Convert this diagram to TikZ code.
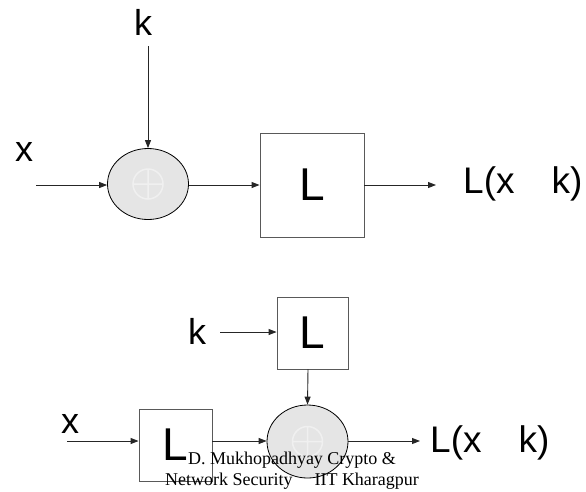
\documentclass[tikz,border=0pt]{standalone}
\usepackage{fontspec}
\setmainfont{Liberation Sans}
\newfontfamily\tnr{Liberation Serif}
\usetikzlibrary{shapes.geometric,arrows.meta}
\begin{document}
\begin{tikzpicture}[x=1pt,y=-1pt,
  conn/.style={draw=black!85,line width=0.9pt,-{Triangle[length=8pt,width=6pt]}},
  lbl/.style={inner sep=0pt,font=\fontsize{36}{36}\selectfont},
  outlbl/.style={inner sep=0pt,anchor=base west,font=\fontsize{37}{37}\selectfont},
  lbox/.style={draw=black!65,line width=0.9pt,fill=white,inner sep=0pt,font=\fontsize{46}{46}\selectfont},
  xorop/.style={ellipse,draw=black,line width=0.8pt,fill=black!10,inner sep=0pt},
  faint/.style={black!6,line width=1.5pt},
  wm/.style={inner sep=0pt,anchor=base,font=\tnr\fontsize{18}{18}\selectfont}]
\useasboundingbox[fill=white] (0,0) rectangle (586,491);
% ---------- top diagram ----------
\node[lbl] (k1) at (143,22) {k};
\coordinate (k1s) at (148,46);
\node[lbl] (x1) at (24,152) {x};
\coordinate (x1s) at (36,185);
\node[xorop,minimum width=81pt,minimum height=71pt] (e1) at (148,184) {};
\draw[faint] (e1.center) circle (15pt) (e1.center) ++(-15,0) -- ++(30,0) (e1.center) ++(0,-15) -- ++(0,30);
\node[lbox,minimum width=104pt,minimum height=104pt] (b1) at (312,185) {L};
\coordinate (o1) at (436,185);
\node[outlbl] (t1) at (463,193) {L(x\hspace{37pt}k)};
\draw[conn] (k1s) -- (e1.north);
\draw[conn] (x1s) -- (x1s -| e1.west);
\draw[conn] (e1.east |- b1.west) -- (b1.west);
\draw[conn] (b1.east) -- (o1);
% ---------- bottom diagram ----------
\node[lbl] (k2) at (197,331) {k};
\coordinate (k2s) at (220,332);
\node[lbox,minimum width=71pt,minimum height=72pt] (b2) at (312.5,333) {L};
\node[lbl] (x2) at (70,424) {x};
\coordinate (x2s) at (67,441);
\node[lbox,minimum width=73pt,minimum height=72pt] (b3) at (175.5,445) {L};
\node[xorop,minimum width=81pt,minimum height=73pt] (e2) at (307.5,441.5) {};
\draw[faint] (e2.center) circle (15pt) (e2.center) ++(-15,0) -- ++(30,0) (e2.center) ++(0,-15) -- ++(0,30);
\coordinate (o2) at (420,441);
\node[outlbl] (t2) at (430,452) {L(x\hspace{37pt}k)};
\draw[conn] (k2s) -- (k2s -| b2.west);
\draw[conn] (308,369) -- (e2.north);
\draw[conn] (x2s) -- (x2s -| b3.west);
\draw[conn] (x2s -| b3.east) -- (x2s -| e2.west);
\draw[conn] (x2s -| e2.east) -- (o2);
% watermark
\node[wm] (w1) at (292,464) {D. Mukhopadhyay Crypto \&};
\node[wm] (w2) at (292,485) {Network Security\hspace{22pt}IIT Kharagpur};
\end{tikzpicture}
\end{document}
